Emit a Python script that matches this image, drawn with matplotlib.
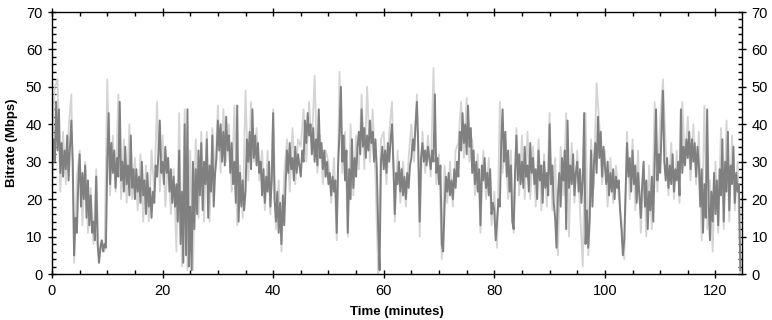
import numpy as np
import matplotlib
matplotlib.use("Agg")
import matplotlib.pyplot as plt
from matplotlib.ticker import MultipleLocator

plt.rcParams['font.family'] = ['Liberation Sans', 'DejaVu Sans']

# dark series, one sample every 0.25 minutes
dark_step = 0.25
dark_rate = [
    25, 36, 30, 46, 33, 44, 27, 35, 26, 33, 28, 37, 25, 34, 41, 30, 5, 15, 11, 24,
    32, 18, 27, 20, 29, 15, 25, 13, 21, 11, 14, 9, 26, 8, 3, 7, 9, 6, 8, 7,
    30, 43, 24, 35, 27, 33, 23, 31, 26, 46, 25, 30, 22, 34, 24, 29, 21, 37, 23, 28,
    20, 28, 22, 26, 19, 30, 21, 25, 16, 27, 18, 23, 15, 22, 19, 29, 26, 32, 41, 27,
    30, 24, 34, 27, 31, 22, 28, 19, 26, 18, 24, 14, 33, 8, 22, 3, 40, 5, 44, 2,
    18, 1, 30, 12, 28, 16, 33, 21, 35, 17, 30, 24, 36, 15, 29, 22, 37, 18, 27, 31,
    41, 33, 40, 30, 38, 29, 42, 33, 37, 27, 35, 24, 30, 19, 45, 14, 27, 18, 25, 17,
    22, 36, 30, 38, 28, 44, 31, 37, 29, 35, 27, 30, 21, 28, 19, 26, 22, 30, 18, 25,
    43, 20, 14, 22, 11, 19, 8, 21, 13, 24, 33, 27, 35, 28, 31, 25, 34, 27, 32, 29,
    26, 33, 30, 41, 35, 43, 37, 40, 32, 39, 30, 36, 29, 44, 31, 35, 28, 33, 26, 30,
    24, 27, 21, 26, 22, 25, 11, 29, 38, 50, 30, 37, 25, 33, 11, 28, 20, 36, 23, 31,
    26, 34, 38, 32, 44, 34, 39, 31, 37, 33, 41, 35, 38, 30, 36, 28, 12, 1, 30, 34,
    28, 33, 27, 35, 30, 36, 40, 29, 16, 27, 24, 30, 22, 28, 21, 26, 20, 27, 23, 29,
    31, 36, 33, 40, 46, 34, 14, 31, 35, 30, 33, 29, 34, 31, 28, 33, 30, 48, 27, 31,
    24, 29, 8, 6, 18, 26, 22, 27, 21, 25, 20, 28, 23, 30, 26, 38, 33, 43, 35, 40,
    32, 45, 34, 39, 27, 33, 24, 30, 22, 28, 13, 29, 25, 31, 23, 27, 21, 28, 16, 19,
    17, 9, 14, 20, 18, 35, 44, 30, 38, 26, 33, 22, 29, 14, 12, 27, 37, 25, 32, 24,
    30, 23, 34, 26, 29, 22, 35, 27, 31, 24, 28, 20, 33, 25, 29, 19, 30, 23, 27, 21,
    40, 24, 29, 19, 15, 7, 21, 27, 18, 31, 25, 33, 12, 41, 23, 29, 24, 32, 21, 27,
    30, 22, 28, 19, 25, 43, 8, 17, 7, 14, 33, 18, 29, 35, 27, 42, 31, 38, 26, 34,
    29, 24, 30, 21, 27, 22, 28, 20, 26, 23, 25, 17, 12, 5, 9, 22, 35, 26, 31, 22,
    33, 24, 29, 19, 27, 21, 15, 24, 30, 18, 25, 12, 22, 17, 26, 14, 29, 44, 25, 32,
    27, 38, 49, 30, 25, 31, 23, 29, 24, 32, 22, 28, 25, 30, 21, 44, 27, 34, 29, 36,
    31, 38, 28, 36, 30, 35, 26, 34, 29, 18, 28, 11, 24, 15, 44, 20, 9, 22, 14, 27,
    16, 25, 13, 28, 21, 36, 14, 30, 22, 38, 17, 29, 24, 34, 19, 27, 22, 24, 1,
]

# light series, one sample every 0.5 minutes
light_step = 0.5
light_rate = [
    33, 50, 52, 22, 38, 24, 39, 48, 3, 26,
    33, 13, 30, 11, 23, 8, 28, 3, 9, 6,
    52, 21, 37, 22, 48, 20, 36, 19, 40, 20,
    31, 17, 32, 14, 29, 14, 33, 22, 46, 22,
    37, 18, 31, 16, 28, 6, 43, 2, 44, 1,
    33, 1, 36, 15, 38, 14, 38, 14, 39, 26,
    45, 27, 44, 30, 40, 22, 45, 13, 29, 15,
    49, 25, 46, 30, 39, 25, 33, 17, 33, 16,
    44, 12, 25, 6, 27, 36, 22, 39, 24, 36,
    34, 44, 30, 46, 34, 53, 27, 37, 24, 33,
    30, 19, 31, 9, 54, 27, 38, 10, 40, 21,
    37, 28, 48, 28, 50, 30, 44, 26, 0, 36,
    38, 24, 38, 46, 14, 33, 19, 30, 18, 31,
    40, 30, 48, 10, 38, 27, 37, 26, 55, 24,
    32, 4, 29, 19, 30, 18, 33, 35, 46, 31,
    47, 30, 36, 21, 32, 11, 33, 20, 31, 13,
    22, 7, 46, 27, 36, 20, 33, 11, 39, 21,
    37, 20, 38, 20, 34, 18, 36, 17, 32, 18,
    43, 17, 31, 5, 34, 21, 43, 10, 35, 19,
    33, 17, 2, 43, 5, 36, 23, 51, 40, 24,
    33, 18, 31, 19, 29, 21, 14, 4, 38, 20,
    36, 17, 33, 11, 28, 10, 29, 12, 46, 22,
    41, 52, 34, 21, 35, 20, 33, 19, 46, 30,
    42, 25, 40, 24, 38, 9, 45, 12, 25, 6,
    30, 11, 39, 12, 41, 14, 37, 17, 30, 0,
]

dark_t = np.arange(len(dark_rate)) * dark_step
light_t = np.arange(len(light_rate)) * light_step

fig = plt.figure(figsize=(7.72, 3.2), dpi=100)
ax = fig.add_axes([52 / 772, 46 / 320, 690 / 772, 262 / 320])

ax.plot(light_t, light_rate, color='#d4d4d4', lw=1.3)
ax.plot(dark_t, dark_rate, color='#808080', lw=1.4)

ax.set_xlim(0, 124.8)
ax.set_ylim(0, 70)
ax.xaxis.set_major_locator(MultipleLocator(20))
ax.xaxis.set_minor_locator(MultipleLocator(5))
ax.yaxis.set_major_locator(MultipleLocator(10))
ax.yaxis.set_minor_locator(MultipleLocator(2))

ax.tick_params(which='major', direction='inout', length=6, width=1,
               labelsize=10.5, top=True, right=True, labelright=True,
               colors='black', pad=4)
ax.tick_params(which='minor', direction='in', length=3, width=1,
               top=True, right=True)
for s in ax.spines.values():
    s.set_linewidth(1)

ax.set_xlabel('Time (minutes)', fontsize=9.5, fontweight='bold', labelpad=6)
ax.set_ylabel('Bitrate (Mbps)', fontsize=9.5, fontweight='bold', labelpad=6)

fig.savefig('out.png', dpi=100)
